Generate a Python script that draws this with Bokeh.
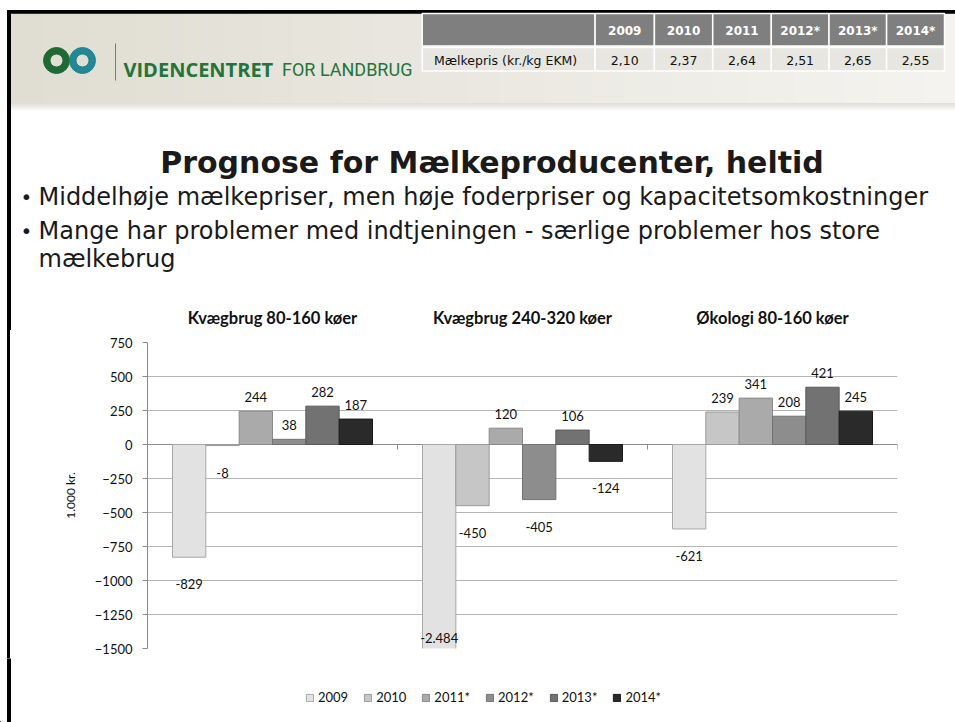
from bokeh.plotting import figure
from bokeh.layouts import column, row
from bokeh.models import Range1d, FixedTicker, Span, Legend, LegendItem
from bokeh.core.properties import value
from bokeh.embed import file_html
from bokeh.resources import INLINE

# ---------------- data ----------------
groups = ["Kvægbrug 80-160 køer", "Kvægbrug 240-320 køer", "Økologi 80-160 køer"]
years = ["2009", "2010", "2011*", "2012*", "2013*", "2014*"]
result_2009 = [-829, -2484, -621]
result_2010 = [-8, -450, 239]
result_2011 = [244, 120, 341]
result_2012 = [38, -405, 208]
result_2013 = [282, 106, 421]
result_2014 = [187, -124, 245]
y_ticks = [750, 500, 250, 0, -250, -500, -750, -1000, -1250, -1500]

table_years = ["2009", "2010", "2011", "2012*", "2013*", "2014*"]
milk_price = [2.10, 2.37, 2.64, 2.51, 2.65, 2.55]
table_row_label = "Mælkepris (kr./kg EKM)"

slide_title = "Prognose for Mælkeproducenter, heltid"
bullet_lines = [
    ("•", "Middelhøje mælkepriser, men høje foderpriser og kapacitetsomkostninger"),
    ("•", "Mange har problemer med indtjeningen - særlige problemer hos store"),
    ("", "mælkebrug"),
]
y_axis_title = "1.000 kr."

bar_colors = ["#e2e2e2", "#c6c6c6", "#aaaaaa", "#8d8d8d", "#727272", "#2a2a2a"]
bar_edges = ["#a8a8a8", "#9a9a9a", "#8a8a8a", "#727272", "#5a5a5a", "#1a1a1a"]

# ---------------- page geometry ----------------
W = 955
H1 = 330          # header part (slide top, title, bullets, chart sub-titles)
FRAME_TOP_PAD, FRAME_H, FRAME_BOT_PAD = 12, 306, 10
CH = FRAME_TOP_PAD + FRAME_H + FRAME_BOT_PAD   # chart part
FH = 722 - H1 - CH                             # footer with legend
FRAME_L, FRAME_W = 147, 750   # chart plot area on the page


def mix(c1, c2, t):
    a = [int(c1[i:i + 2], 16) for i in (1, 3, 5)]
    b = [int(c2[i:i + 2], 16) for i in (1, 3, 5)]
    return "#%02x%02x%02x" % tuple(round(a[j] + (b[j] - a[j]) * t) for j in range(3))


def blank(width, height, x_range, y_range, fill="white"):
    f = figure(width=width, height=height, x_range=x_range, y_range=y_range,
               output_backend="svg", toolbar_location=None,
               x_axis_type=None, y_axis_type=None, min_border=0)
    f.grid.visible = False
    f.outline_line_color = None
    f.background_fill_color = fill
    f.border_fill_color = fill
    return f


# ---------------- header figure ----------------
hdr = blank(W, H1, Range1d(0, W), Range1d(H1, 0))

n_st = 60
x_edges = [10 + (W - 10) * i / n_st for i in range(n_st + 1)]
hdr.quad(left=x_edges[:-1], right=x_edges[1:], top=12.5, bottom=103,
         color=[mix("#e0ddd2", "#f4f3ef", i / (n_st - 1)) for i in range(n_st)])
n_sh = 9
for i in range(n_sh):
    hdr.quad(left=10, right=W, top=103 + i, bottom=104 + i,
             color=mix("#dddbd4", "#ffffff", (i + 1) / n_sh))

# slide border
hdr.quad(left=7, right=W, top=10, bottom=12.7, color="black")
hdr.quad(left=7, right=10, top=10, bottom=H1, color="black")

# logo
hdr.annulus(x=[56], y=[60], inner_radius=6.5, outer_radius=13, color="#1f6a34")
hdr.annulus(x=[82], y=[60], inner_radius=6.5, outer_radius=13, color="#17808f", alpha=0.93)
hdr.segment(x0=115, y0=43, x1=115, y1=80, line_color="#5b8f5b", line_width=1)
hdr.text(x=[123], y=[69], text=["VIDENCENTRET"], text_font=value("Open Sans"),
         text_font_style="bold", text_font_size="20px", text_color="#23743a",
         text_baseline="alphabetic")
hdr.text(x=[281.5], y=[69], text=["FOR LANDBRUG"], text_font=value("Roboto"),
         text_font_size="18px", text_color="#23743a", text_baseline="alphabetic")

# milk price table
col_edges = [421.7, 594.6, 653.9, 712.2, 770.8, 828.5, 886.1, 944]
hdr.quad(left=col_edges[:-1], right=col_edges[1:], top=13, bottom=45.5,
         fill_color="#7f7f7f", line_color="white", line_width=1.5)
hdr.quad(left=col_edges[:-1], right=col_edges[1:], top=47, bottom=70.5,
         fill_color="#e8e6e0", line_color="white", line_width=1.5)
centers = [(col_edges[i + 1] + col_edges[i + 2]) / 2 for i in range(len(table_years))]
hdr.text(x=centers, y=30, text=table_years, text_font=value("DejaVu Sans"),
         text_font_style="bold", text_font_size="12px", text_color="white",
         text_align="center", text_baseline="middle")
hdr.text(x=centers, y=59.5, text=[f"{v:.2f}".replace(".", ",") for v in milk_price],
         text_font=value("DejaVu Sans"), text_font_size="12.5px", text_color="#111111",
         text_align="center", text_baseline="middle")
hdr.text(x=[433.5], y=[59.5], text=[table_row_label], text_font=value("DejaVu Sans"),
         text_font_size="12.5px", text_color="#111111", text_baseline="middle")

# slide title and bullets
hdr.text(x=[491.5], y=[162], text=[slide_title], text_font=value("DejaVu Sans"),
         text_font_style="bold", text_font_size="30px", text_color="#1a1a1a",
         text_align="center", text_baseline="middle")
b_y = [196, 230, 258]
hdr.text(x=[20] * 3, y=b_y, text=[b for b, _ in bullet_lines], text_font=value("DejaVu Sans"),
         text_font_size="20px", text_color="#1a1a1a", text_baseline="middle")
hdr.text(x=[38] * 3, y=b_y, text=[t for _, t in bullet_lines], text_font=value("DejaVu Sans"),
         text_font_size="24px", text_color="#1a1a1a", text_baseline="middle")

# chart sub-titles, centred over each category group of the plot area
ng = len(groups)
hdr.text(x=[FRAME_L + (i + 0.5) * FRAME_W / ng for i in range(ng)], y=317, text=groups,
         text_font=value("Lato"), text_font_style="bold", text_font_size="16.5px",
         text_color="#111111", text_align="center", text_baseline="middle")

# ---------------- chart figure ----------------
p = figure(width=W, height=CH, x_range=Range1d(0, ng), y_range=Range1d(-1500, 750),
           output_backend="svg", toolbar_location=None,
           min_border_left=FRAME_L, min_border_right=W - FRAME_L - FRAME_W,
           min_border_top=FRAME_TOP_PAD, min_border_bottom=FRAME_BOT_PAD)
p.background_fill_color = "white"
p.border_fill_color = None
# slide's left border line continues beside the chart (page background of this figure)
p.styles = {"background": "linear-gradient(to right, #ffffff 7px, #000000 7px, "
                          "#000000 10px, #ffffff 10px)"}
p.outline_line_color = None
p.xaxis.visible = False
p.xgrid.visible = False
p.ygrid.grid_line_color = "#b4b4b4"
p.yaxis.ticker = FixedTicker(ticks=y_ticks)
p.ygrid.ticker = FixedTicker(ticks=y_ticks)
p.yaxis.axis_line_color = "#8a8a8a"
p.yaxis.major_tick_line_color = "#8a8a8a"
p.yaxis.major_tick_out = 5
p.yaxis.major_tick_in = 0
p.yaxis.minor_tick_line_color = None
p.yaxis.major_label_standoff = 10
p.yaxis.major_label_text_font = "Lato"
p.yaxis.major_label_text_font_size = "13px"
p.yaxis.major_label_text_color = "#111111"
p.yaxis.axis_label = y_axis_title
p.yaxis.axis_label_text_font = "Lato"
p.yaxis.axis_label_text_font_style = "normal"
p.yaxis.axis_label_text_font_size = "12px"
p.yaxis.axis_label_text_color = "#111111"
p.yaxis.axis_label_standoff = 14

p.add_layout(Span(location=0, dimension="width", line_color="#8a8a8a", line_width=1,
                  level="underlay"))
bounds = list(range(ng + 1))
tick_len = 5 * (750 + 1500) / FRAME_H
p.segment(x0=bounds, y0=0, x1=bounds, y1=-tick_len, line_color="#8a8a8a", line_width=1)

series = [result_2009, result_2010, result_2011, result_2012, result_2013, result_2014]
ny = len(years)
bw = 0.8 / ny
lx, ly, lt, lo = [], [], [], []
for k, (yr, vals) in enumerate(zip(years, series)):
    xs = [i + 0.5 + (k - (ny - 1) / 2) * bw for i in range(ng)]
    p.vbar(x=xs, top=vals, bottom=0, width=bw, fill_color=bar_colors[k],
           line_color=bar_edges[k], line_width=1)
    for x, v in zip(xs, vals):
        lx.append(x)
        ly.append(max(v, -1500))
        lt.append(f"{v:,}".replace(",", "."))
        lo.append(-14 if v >= 0 else (27 if v > -1500 else -11))

p.text(x=lx, y=ly, text=lt, y_offset=lo, text_align="center", text_baseline="middle",
       text_font=value("Lato"), text_font_size="13px", text_color="#111111")

# ---------------- footer with legend ----------------
foot = blank(W, FH, Range1d(0, W), Range1d(0, FH))
foot.quad(left=7, right=10, bottom=0, top=FH, color="black")
items = []
for k, yr in enumerate(years):
    # legend swatch holder, placed outside the visible range of the footer
    r = foot.vbar(x=[-50], top=[1], bottom=0, width=1, fill_color=bar_colors[k],
                  line_color=bar_edges[k], line_width=1)
    items.append(LegendItem(label=yr, renderers=[r]))
legend = Legend(items=items, orientation="horizontal", location=(305, FH - 39 - 10),
                glyph_width=9, glyph_height=9, label_standoff=4, spacing=15,
                padding=0, margin=0, border_line_color=None, background_fill_alpha=0,
                label_text_font="Lato", label_text_font_size="13px",
                label_text_color="#111111", label_height=20)
foot.add_layout(legend)

# the chart is wrapped in its own row so its plot frame is not aligned with the
# (full-canvas) frames of the header and footer figures
layout = column(hdr, row(p), foot)
open("out.html", "w").write(file_html(layout, INLINE))
